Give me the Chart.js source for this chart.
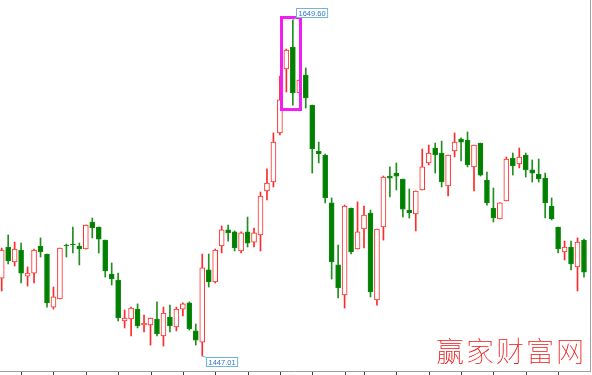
<!DOCTYPE html>
<html><head><meta charset="utf-8">
<script src="https://cdn.jsdelivr.net/npm/chart.js@4.4.0/dist/chart.umd.min.js"></script>
<style>html,body{margin:0;padding:0;background:#fff;overflow:hidden}#wrap{width:592px;height:375px;position:relative}</style>
</head><body><div id="wrap"><canvas id="c" width="592" height="375"></canvas></div>
<script>
// trading-day index (categories)
const days = [1,2,3,4,5,6,7,8,9,10,11,12,13,14,15,16,17,18,19,20,21,22,23,24,25,26,27,28,29,30,
31,32,33,34,35,36,37,38,39,40,41,42,43,44,45,46,47,48,49,50,51,52,53,54,55,56,57,58,59,60,
61,62,63,64,65,66,67,68,69,70,71,72,73,74,75,76,77,78,79,80,81,82,83,84,85,86,87,88,89,90,91];

const open = [1494.0,1512.7,1503.7,1510.9,1495.2,1497.0,1513.3,1508.5,1476.5,1481.4,
1513.9,1514.5,1513.3,1511.5,1527.8,1524.8,1516.9,1496.4,1492.8,1468.1,
1469.3,1475.3,1465.7,1465.7,1469.3,1459.1,1470.5,1464.5,1475.3,1479.0,
1462.1,1455.4,1498.9,1491.6,1513.3,1523.0,1521.8,1510.3,1521.8,1515.7,
1520.0,1546.5,1551.9,1581.5,1620.1,1633.3,1605.6,1616.4,1598.3,1570.6,
1568.2,1539.3,1501.9,1483.8,1536.2,1511.5,1523.6,1533.2,1480.8,1524.8,
1555.5,1557.3,1553.7,1535.0,1532.6,1547.1,1563.4,1572.4,1569.4,1549.5,
1570.6,1577.8,1577.2,1561.0,1575.4,1553.1,1536.2,1529.6,1540.5,1566.4,
1562.8,1568.2,1559.2,1556.7,1554.3,1537.4,1524.8,1509.7,1512.7,1500.7,1516.9];

const high = [1512.1,1520.0,1515.7,1515.1,1500.7,1511.5,1518.2,1508.5,1488.6,1512.1,
1514.5,1524.8,1515.1,1526.0,1530.2,1524.8,1516.9,1503.1,1497.0,1474.7,
1476.5,1478.4,1471.7,1469.9,1479.6,1476.5,1477.7,1476.5,1479.0,1479.6,
1466.3,1508.5,1508.5,1511.5,1525.4,1526.0,1522.4,1521.8,1530.8,1524.2,
1545.9,1559.8,1581.5,1615.8,1632.1,1649.60,1613.4,1620.7,1598.3,1576.0,
1568.8,1542.3,1513.9,1538.0,1536.2,1539.9,1537.4,1535.0,1523.6,1555.5,
1561.0,1563.4,1553.7,1547.7,1546.5,1571.8,1574.2,1575.4,1576.6,1568.2,
1581.5,1578.5,1582.1,1574.2,1575.4,1557.9,1548.3,1539.3,1567.0,1569.4,
1572.4,1569.4,1565.2,1565.8,1557.3,1542.3,1524.8,1516.3,1516.3,1518.2,1517.5];

const low = [1486.2,1502.5,1501.3,1491.0,1489.2,1491.0,1506.7,1476.5,1475.3,1481.4,
1506.7,1509.1,1501.9,1511.5,1518.2,1509.1,1494.6,1489.8,1468.1,1463.9,
1459.1,1463.9,1461.5,1453.6,1459.1,1453.0,1461.5,1462.1,1471.1,1462.7,
1453.6,1447.01,1488.6,1491.0,1509.1,1516.3,1510.3,1509.1,1512.7,1512.7,
1510.3,1541.1,1548.9,1580.3,1606.2,1598.3,1605.6,1596.5,1557.3,1563.4,
1539.3,1493.4,1482.0,1475.9,1508.5,1511.5,1512.1,1482.6,1477.7,1516.9,
1542.9,1547.1,1530.8,1530.2,1522.4,1547.1,1562.2,1557.3,1548.9,1543.5,
1567.0,1564.6,1561.0,1546.5,1555.5,1538.0,1527.8,1529.6,1540.5,1556.1,
1560.4,1554.9,1551.9,1551.9,1530.2,1529.0,1509.1,1504.9,1498.9,1486.2,1494.6];

const close = [1510.9,1504.3,1511.5,1497.0,1497.0,1510.9,1509.7,1479.0,1482.6,1512.1,
1513.3,1513.9,1511.5,1526.0,1524.2,1517.5,1498.3,1493.4,1469.9,1469.9,
1475.9,1465.1,1466.9,1469.9,1460.3,1472.9,1465.1,1475.3,1478.4,1463.3,
1456.6,1500.1,1491.6,1510.9,1523.0,1521.2,1512.1,1521.2,1515.1,1521.2,
1543.5,1551.3,1576.0,1601.4,1631.5,1605.6,1613.4,1602.6,1571.8,1568.8,
1542.3,1503.7,1488.0,1537.4,1509.7,1521.8,1532.0,1485.6,1523.6,1554.9,
1554.3,1555.5,1535.6,1533.2,1546.5,1561.0,1569.4,1568.2,1551.9,1568.2,
1576.0,1576.0,1562.2,1574.2,1556.1,1539.3,1530.2,1539.3,1565.8,1561.6,
1567.0,1559.2,1557.3,1553.7,1539.3,1529.6,1511.5,1512.7,1502.5,1515.7,1497.6];

// bottom axis tick days (weekly) and highlighted range [fromDay, toDay, topPrice, bottomPrice]
const tickDays = [4,9,14,19,24,29,34,39,44,49,54,57,62,67,72,77,82,87];
const highlight = [44.25, 47.18, 1651.1, 1595.6];
const watermark = '赢家财富网';

const isUp = close.map((c,i)=> c >= open[i]);
const wickData = days.map((d,i)=>({x:d, y:[low[i], high[i]]}));
const bodyData = days.map((d,i)=>({x:d, y:[Math.min(open[i],close[i]), Math.max(open[i],close[i])]}));

const UP = '#ff2a2a', DOWN = '#008000', DOWN_EDGE = '#108a10', DOWN_WICK = '#1f8f1f';

const overlay = {
  id:'overlay',
  afterDatasetsDraw(chart){
    const ctx = chart.ctx, xs = chart.scales.x, ys = chart.scales.y, a = chart.chartArea;
    ctx.save();
    ctx.strokeStyle = '#a0a0a0'; ctx.lineWidth = 1;
    ctx.beginPath();
    ctx.moveTo(0, Math.round(a.bottom)+0.5); ctx.lineTo(Math.round(a.right)+0.5, Math.round(a.bottom)+0.5);
    ctx.moveTo(Math.round(a.right)+0.5, 0); ctx.lineTo(Math.round(a.right)+0.5, Math.round(a.bottom)+1);
    ctx.stroke();
    ctx.strokeStyle = '#404040';
    ctx.beginPath();
    tickDays.forEach(t=>{
      const x = Math.round(xs.getPixelForValue(t))+0.5;
      ctx.moveTo(x, Math.round(a.bottom)+1); ctx.lineTo(x, Math.round(a.bottom)+4);
    });
    ctx.stroke();
    const hx1 = xs.getPixelForValue(highlight[0]), hx2 = xs.getPixelForValue(highlight[1]);
    const hy1 = ys.getPixelForValue(highlight[2]), hy2 = ys.getPixelForValue(highlight[3]);
    ctx.strokeStyle = '#f01ef0'; ctx.lineWidth = 3;
    ctx.strokeRect(hx1, hy1, hx2-hx1, hy2-hy1);
    let hi = 0, lo = 0;
    high.forEach((v,i)=>{ if(v>high[hi]) hi=i; });
    low.forEach((v,i)=>{ if(v<low[lo]) lo=i; });
    ctx.font = '7.5px "Liberation Sans", Arial, sans-serif';
    ctx.textBaseline = 'middle'; ctx.textAlign = 'left';
    function tag(text, px, py, dx, dy){
      const w = ctx.measureText(text).width + 4, h = 9;
      const bx = Math.round(px+dx)+0.5, by = Math.round(py+dy)+0.5;
      ctx.strokeStyle = '#6fb6d8'; ctx.lineWidth = 1;
      ctx.beginPath(); ctx.moveTo(px, py); ctx.lineTo(bx, dy<0 ? by+h : by); ctx.stroke();
      ctx.fillStyle = '#fff'; ctx.fillRect(bx, by, w, h);
      ctx.strokeRect(bx, by, w, h);
      ctx.fillStyle = '#2f74c8';
      ctx.fillText(text, bx+2, by+h/2+0.5);
    }
    tag(high[hi].toFixed(2), xs.getPixelForValue(days[hi]), ys.getPixelForValue(high[hi]), 3, -12);
    tag(low[lo].toFixed(2), xs.getPixelForValue(days[lo]), ys.getPixelForValue(low[lo]), 4, 1);
    ctx.font = '100 28px "Noto Sans CJK SC Thin", "Noto Sans CJK SC Light", "Noto Sans CJK SC", sans-serif';
    if ('letterSpacing' in ctx) ctx.letterSpacing = '2px';
    ctx.fillStyle = '#ee1515'; ctx.textAlign = 'left'; ctx.textBaseline = 'middle';
    ctx.fillText(watermark, 436, 351);
    ctx.restore();
  }
};

new Chart(document.getElementById('c').getContext('2d'), {
  type:'bar',
  data:{datasets:[
    {label:'body', data: bodyData, order:0, grouped:false, barThickness:5, borderWidth:1, borderSkipped:false,
     backgroundColor: isUp.map(u=>u?'#ffffff':DOWN), borderColor: isUp.map(u=>u?UP:DOWN_EDGE)},
    {label:'wick', data: wickData, order:1, grouped:false, barThickness:1, borderWidth:0,
     backgroundColor: isUp.map(u=>u?UP:DOWN_WICK)}
  ]},
  options:{responsive:false, animation:false, maintainAspectRatio:false, devicePixelRatio:1,
    layout:{padding:{left:0,right:2,top:0,bottom:4}},
    plugins:{legend:{display:false}, tooltip:{enabled:false}},
    scales:{
      x:{type:'linear', min:0.737, max:91.93, offset:false, bounds:'ticks', display:false},
      y:{type:'linear', min:1437.95, max:1661.66, display:false}
    }
  },
  plugins:[overlay]
});
</script></body></html>
